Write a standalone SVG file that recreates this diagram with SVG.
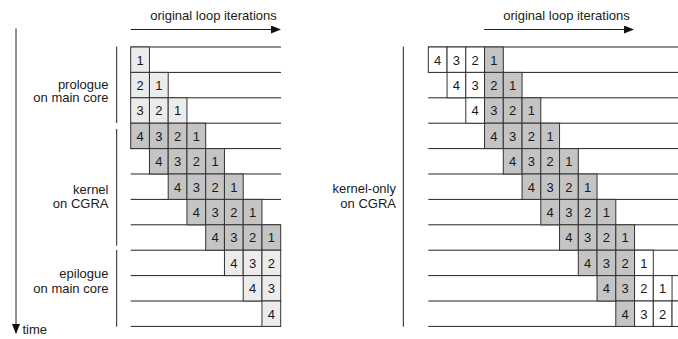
<svg xmlns="http://www.w3.org/2000/svg" width="678" height="339" viewBox="0 0 678 339">
<style>
text{font-family:"Liberation Sans",Arial,Helvetica,sans-serif;fill:#1a1a1a}
.lbl{font-size:13px;text-anchor:end}
.ttl{font-size:13px;text-anchor:middle}
.n{font-size:13px;text-anchor:middle}
.ln{stroke:#222;stroke-width:1;fill:none}
.g rect{fill:#c4c4c4;stroke:#333;stroke-width:1}
.l rect{fill:#ececec;stroke:#333;stroke-width:1}
.w rect{fill:#fff;stroke:#333;stroke-width:1}
</style>
<defs>
<marker id="ah" markerWidth="10" markerHeight="8" refX="9" refY="4" orient="auto" markerUnits="userSpaceOnUse">
<path d="M0,0 L10,4 L0,8 Z" fill="#111"/>
</marker>
</defs>

<g id="connectors">
<line class="ln" x1="130.7" y1="29.5" x2="280" y2="29.5" marker-end="url(#ah)"/>
<line class="ln" x1="484" y1="29.5" x2="633" y2="29.5" marker-end="url(#ah)"/>
<line class="ln" x1="16" y1="28.5" x2="16" y2="333" marker-end="url(#ah)"/>
</g>

<g id="titles">
<text class="ttl" x="213.5" y="20">original loop iterations</text>
<text class="ttl" x="566.5" y="20">original loop iterations</text>
<text x="22.5" y="333.5" style="font-size:13px">time</text>
</g>

<g id="brackets">
<line class="ln" x1="116.7" y1="46.7" x2="116.7" y2="123"/>
<line class="ln" x1="116.7" y1="129" x2="116.7" y2="245.7"/>
<line class="ln" x1="116.7" y1="250" x2="116.7" y2="326.7"/>
<line class="ln" x1="403.3" y1="46.7" x2="403.3" y2="326.7"/>
</g>

<g id="labels">
<text class="lbl" x="108.5" y="88.5">prologue</text>
<text class="lbl" x="108.5" y="102">on main core</text>
<text class="lbl" x="108.5" y="193.5">kernel</text>
<text class="lbl" x="108.5" y="208">on CGRA</text>
<text class="lbl" x="108.5" y="277.5">epilogue</text>
<text class="lbl" x="108.5" y="293">on main core</text>
<text class="lbl" x="396" y="193">kernel-only</text>
<text class="lbl" x="396" y="207.5">on CGRA</text>
</g>

<g id="gridlines">
<g id="left-rows">
<line class="ln" x1="130.7" y1="47" x2="281" y2="47"/>
<line class="ln" x1="130.7" y1="72.4" x2="281" y2="72.4"/>
<line class="ln" x1="130.7" y1="97.8" x2="281" y2="97.8"/>
<line class="ln" x1="130.7" y1="123.2" x2="281" y2="123.2"/>
<line class="ln" x1="130.7" y1="148.6" x2="281" y2="148.6"/>
<line class="ln" x1="130.7" y1="174" x2="281" y2="174"/>
<line class="ln" x1="130.7" y1="199.4" x2="281" y2="199.4"/>
<line class="ln" x1="130.7" y1="224.8" x2="281" y2="224.8"/>
<line class="ln" x1="130.7" y1="250.2" x2="281" y2="250.2"/>
<line class="ln" x1="130.7" y1="275.6" x2="281" y2="275.6"/>
<line class="ln" x1="130.7" y1="301" x2="281" y2="301"/>
<line class="ln" x1="130.7" y1="326.4" x2="281" y2="326.4"/>
</g>
<g id="right-rows">
<line class="ln" x1="428.3" y1="47" x2="678" y2="47"/>
<line class="ln" x1="428.3" y1="72.4" x2="678" y2="72.4"/>
<line class="ln" x1="428.3" y1="97.8" x2="678" y2="97.8"/>
<line class="ln" x1="428.3" y1="123.2" x2="678" y2="123.2"/>
<line class="ln" x1="428.3" y1="148.6" x2="678" y2="148.6"/>
<line class="ln" x1="428.3" y1="174" x2="678" y2="174"/>
<line class="ln" x1="428.3" y1="199.4" x2="678" y2="199.4"/>
<line class="ln" x1="428.3" y1="224.8" x2="678" y2="224.8"/>
<line class="ln" x1="428.3" y1="250.2" x2="678" y2="250.2"/>
<line class="ln" x1="428.3" y1="275.6" x2="678" y2="275.6"/>
<line class="ln" x1="428.3" y1="301" x2="678" y2="301"/>
<line class="ln" x1="428.3" y1="326.4" x2="678" y2="326.4"/>
</g>
</g>

<g id="left-cells">
<!-- prologue -->
<g id="L0-0" class="l"><rect x="130.7" y="47" width="18.75" height="25.4"/><text class="n" x="140.1" y="64.5">1</text></g>
<g id="L1-0" class="l"><rect x="130.7" y="72.4" width="18.75" height="25.4"/><text class="n" x="140.1" y="89.9">2</text></g>
<g id="L1-1" class="l"><rect x="149.45" y="72.4" width="18.75" height="25.4"/><text class="n" x="158.8" y="89.9">1</text></g>
<g id="L2-0" class="l"><rect x="130.7" y="97.8" width="18.75" height="25.4"/><text class="n" x="140.1" y="115.3">3</text></g>
<g id="L2-1" class="l"><rect x="149.45" y="97.8" width="18.75" height="25.4"/><text class="n" x="158.8" y="115.3">2</text></g>
<g id="L2-2" class="l"><rect x="168.2" y="97.8" width="18.75" height="25.4"/><text class="n" x="177.6" y="115.3">1</text></g>
<!-- kernel -->
<g id="L3-0" class="g"><rect x="130.7" y="123.2" width="18.75" height="25.4"/><text class="n" x="140.1" y="140.7">4</text></g>
<g id="L3-1" class="g"><rect x="149.45" y="123.2" width="18.75" height="25.4"/><text class="n" x="158.8" y="140.7">3</text></g>
<g id="L3-2" class="g"><rect x="168.2" y="123.2" width="18.75" height="25.4"/><text class="n" x="177.6" y="140.7">2</text></g>
<g id="L3-3" class="g"><rect x="186.95" y="123.2" width="18.75" height="25.4"/><text class="n" x="196.3" y="140.7">1</text></g>
<g id="L4-1" class="g"><rect x="149.45" y="148.6" width="18.75" height="25.4"/><text class="n" x="158.8" y="166.1">4</text></g>
<g id="L4-2" class="g"><rect x="168.2" y="148.6" width="18.75" height="25.4"/><text class="n" x="177.6" y="166.1">3</text></g>
<g id="L4-3" class="g"><rect x="186.95" y="148.6" width="18.75" height="25.4"/><text class="n" x="196.3" y="166.1">2</text></g>
<g id="L4-4" class="g"><rect x="205.7" y="148.6" width="18.75" height="25.4"/><text class="n" x="215.1" y="166.1">1</text></g>
<g id="L5-2" class="g"><rect x="168.2" y="174" width="18.75" height="25.4"/><text class="n" x="177.6" y="191.5">4</text></g>
<g id="L5-3" class="g"><rect x="186.95" y="174" width="18.75" height="25.4"/><text class="n" x="196.3" y="191.5">3</text></g>
<g id="L5-4" class="g"><rect x="205.7" y="174" width="18.75" height="25.4"/><text class="n" x="215.1" y="191.5">2</text></g>
<g id="L5-5" class="g"><rect x="224.45" y="174" width="18.75" height="25.4"/><text class="n" x="233.8" y="191.5">1</text></g>
<g id="L6-3" class="g"><rect x="186.95" y="199.4" width="18.75" height="25.4"/><text class="n" x="196.3" y="216.9">4</text></g>
<g id="L6-4" class="g"><rect x="205.7" y="199.4" width="18.75" height="25.4"/><text class="n" x="215.1" y="216.9">3</text></g>
<g id="L6-5" class="g"><rect x="224.45" y="199.4" width="18.75" height="25.4"/><text class="n" x="233.8" y="216.9">2</text></g>
<g id="L6-6" class="g"><rect x="243.2" y="199.4" width="18.75" height="25.4"/><text class="n" x="252.6" y="216.9">1</text></g>
<g id="L7-4" class="g"><rect x="205.7" y="224.8" width="18.75" height="25.4"/><text class="n" x="215.1" y="242.3">4</text></g>
<g id="L7-5" class="g"><rect x="224.45" y="224.8" width="18.75" height="25.4"/><text class="n" x="233.8" y="242.3">3</text></g>
<g id="L7-6" class="g"><rect x="243.2" y="224.8" width="18.75" height="25.4"/><text class="n" x="252.6" y="242.3">2</text></g>
<g id="L7-7" class="g"><rect x="261.95" y="224.8" width="18.75" height="25.4"/><text class="n" x="271.3" y="242.3">1</text></g>
<!-- epilogue -->
<g id="L8-5" class="l"><rect x="224.45" y="250.2" width="18.75" height="25.4"/><text class="n" x="233.8" y="267.7">4</text></g>
<g id="L8-6" class="l"><rect x="243.2" y="250.2" width="18.75" height="25.4"/><text class="n" x="252.6" y="267.7">3</text></g>
<g id="L8-7" class="l"><rect x="261.95" y="250.2" width="18.75" height="25.4"/><text class="n" x="271.3" y="267.7">2</text></g>
<g id="L9-6" class="l"><rect x="243.2" y="275.6" width="18.75" height="25.4"/><text class="n" x="252.6" y="293.1">4</text></g>
<g id="L9-7" class="l"><rect x="261.95" y="275.6" width="18.75" height="25.4"/><text class="n" x="271.3" y="293.1">3</text></g>
<g id="L10-7" class="l"><rect x="261.95" y="301" width="18.75" height="25.4"/><text class="n" x="271.3" y="318.5">4</text></g>
</g>

<g id="right-cells">
<g id="R0-0" class="w"><rect x="428.3" y="47" width="18.75" height="25.4"/><text class="n" x="437.7" y="64.5">4</text></g>
<g id="R0-1" class="w"><rect x="447.05" y="47" width="18.75" height="25.4"/><text class="n" x="456.4" y="64.5">3</text></g>
<g id="R0-2" class="w"><rect x="465.8" y="47" width="18.75" height="25.4"/><text class="n" x="475.2" y="64.5">2</text></g>
<g id="R0-3" class="g"><rect x="484.55" y="47" width="18.75" height="25.4"/><text class="n" x="493.9" y="64.5">1</text></g>

<g id="R1-1" class="w"><rect x="447.05" y="72.4" width="18.75" height="25.4"/><text class="n" x="456.4" y="89.9">4</text></g>
<g id="R1-2" class="w"><rect x="465.8" y="72.4" width="18.75" height="25.4"/><text class="n" x="475.2" y="89.9">3</text></g>
<g id="R1-3" class="g"><rect x="484.55" y="72.4" width="18.75" height="25.4"/><text class="n" x="493.9" y="89.9">2</text></g>
<g id="R1-4" class="g"><rect x="503.3" y="72.4" width="18.75" height="25.4"/><text class="n" x="512.7" y="89.9">1</text></g>

<g id="R2-2" class="w"><rect x="465.8" y="97.8" width="18.75" height="25.4"/><text class="n" x="475.2" y="115.3">4</text></g>
<g id="R2-3" class="g"><rect x="484.55" y="97.8" width="18.75" height="25.4"/><text class="n" x="493.9" y="115.3">3</text></g>
<g id="R2-4" class="g"><rect x="503.3" y="97.8" width="18.75" height="25.4"/><text class="n" x="512.7" y="115.3">2</text></g>
<g id="R2-5" class="g"><rect x="522.05" y="97.8" width="18.75" height="25.4"/><text class="n" x="531.4" y="115.3">1</text></g>

<g id="R3-3" class="g"><rect x="484.55" y="123.2" width="18.75" height="25.4"/><text class="n" x="493.9" y="140.7">4</text></g>
<g id="R3-4" class="g"><rect x="503.3" y="123.2" width="18.75" height="25.4"/><text class="n" x="512.7" y="140.7">3</text></g>
<g id="R3-5" class="g"><rect x="522.05" y="123.2" width="18.75" height="25.4"/><text class="n" x="531.4" y="140.7">2</text></g>
<g id="R3-6" class="g"><rect x="540.8" y="123.2" width="18.75" height="25.4"/><text class="n" x="550.2" y="140.7">1</text></g>

<g id="R4-4" class="g"><rect x="503.3" y="148.6" width="18.75" height="25.4"/><text class="n" x="512.7" y="166.1">4</text></g>
<g id="R4-5" class="g"><rect x="522.05" y="148.6" width="18.75" height="25.4"/><text class="n" x="531.4" y="166.1">3</text></g>
<g id="R4-6" class="g"><rect x="540.8" y="148.6" width="18.75" height="25.4"/><text class="n" x="550.2" y="166.1">2</text></g>
<g id="R4-7" class="g"><rect x="559.55" y="148.6" width="18.75" height="25.4"/><text class="n" x="568.9" y="166.1">1</text></g>

<g id="R5-5" class="g"><rect x="522.05" y="174" width="18.75" height="25.4"/><text class="n" x="531.4" y="191.5">4</text></g>
<g id="R5-6" class="g"><rect x="540.8" y="174" width="18.75" height="25.4"/><text class="n" x="550.2" y="191.5">3</text></g>
<g id="R5-7" class="g"><rect x="559.55" y="174" width="18.75" height="25.4"/><text class="n" x="568.9" y="191.5">2</text></g>
<g id="R5-8" class="g"><rect x="578.3" y="174" width="18.75" height="25.4"/><text class="n" x="587.7" y="191.5">1</text></g>

<g id="R6-6" class="g"><rect x="540.8" y="199.4" width="18.75" height="25.4"/><text class="n" x="550.2" y="216.9">4</text></g>
<g id="R6-7" class="g"><rect x="559.55" y="199.4" width="18.75" height="25.4"/><text class="n" x="568.9" y="216.9">3</text></g>
<g id="R6-8" class="g"><rect x="578.3" y="199.4" width="18.75" height="25.4"/><text class="n" x="587.7" y="216.9">2</text></g>
<g id="R6-9" class="g"><rect x="597.05" y="199.4" width="18.75" height="25.4"/><text class="n" x="606.4" y="216.9">1</text></g>

<g id="R7-7" class="g"><rect x="559.55" y="224.8" width="18.75" height="25.4"/><text class="n" x="568.9" y="242.3">4</text></g>
<g id="R7-8" class="g"><rect x="578.3" y="224.8" width="18.75" height="25.4"/><text class="n" x="587.7" y="242.3">3</text></g>
<g id="R7-9" class="g"><rect x="597.05" y="224.8" width="18.75" height="25.4"/><text class="n" x="606.4" y="242.3">2</text></g>
<g id="R7-10" class="g"><rect x="615.8" y="224.8" width="18.75" height="25.4"/><text class="n" x="625.2" y="242.3">1</text></g>

<g id="R8-8" class="g"><rect x="578.3" y="250.2" width="18.75" height="25.4"/><text class="n" x="587.7" y="267.7">4</text></g>
<g id="R8-9" class="g"><rect x="597.05" y="250.2" width="18.75" height="25.4"/><text class="n" x="606.4" y="267.7">3</text></g>
<g id="R8-10" class="g"><rect x="615.8" y="250.2" width="18.75" height="25.4"/><text class="n" x="625.2" y="267.7">2</text></g>
<g id="R8-11" class="w"><rect x="634.55" y="250.2" width="18.75" height="25.4"/><text class="n" x="643.9" y="267.7">1</text></g>

<g id="R9-9" class="g"><rect x="597.05" y="275.6" width="18.75" height="25.4"/><text class="n" x="606.4" y="293.1">4</text></g>
<g id="R9-10" class="g"><rect x="615.8" y="275.6" width="18.75" height="25.4"/><text class="n" x="625.2" y="293.1">3</text></g>
<g id="R9-11" class="w"><rect x="634.55" y="275.6" width="18.75" height="25.4"/><text class="n" x="643.9" y="293.1">2</text></g>
<g id="R9-12" class="w"><rect x="653.3" y="275.6" width="18.75" height="25.4"/><text class="n" x="662.7" y="293.1">1</text></g>

<g id="R10-10" class="g"><rect x="615.8" y="301" width="18.75" height="25.4"/><text class="n" x="625.2" y="318.5">4</text></g>
<g id="R10-11" class="w"><rect x="634.55" y="301" width="18.75" height="25.4"/><text class="n" x="643.9" y="318.5">3</text></g>
<g id="R10-12" class="w"><rect x="653.3" y="301" width="18.75" height="25.4"/><text class="n" x="662.7" y="318.5">2</text></g>
<g id="R10-13" class="w"><rect x="672.05" y="301" width="18.75" height="25.4"/></g>
</g>
</svg>
